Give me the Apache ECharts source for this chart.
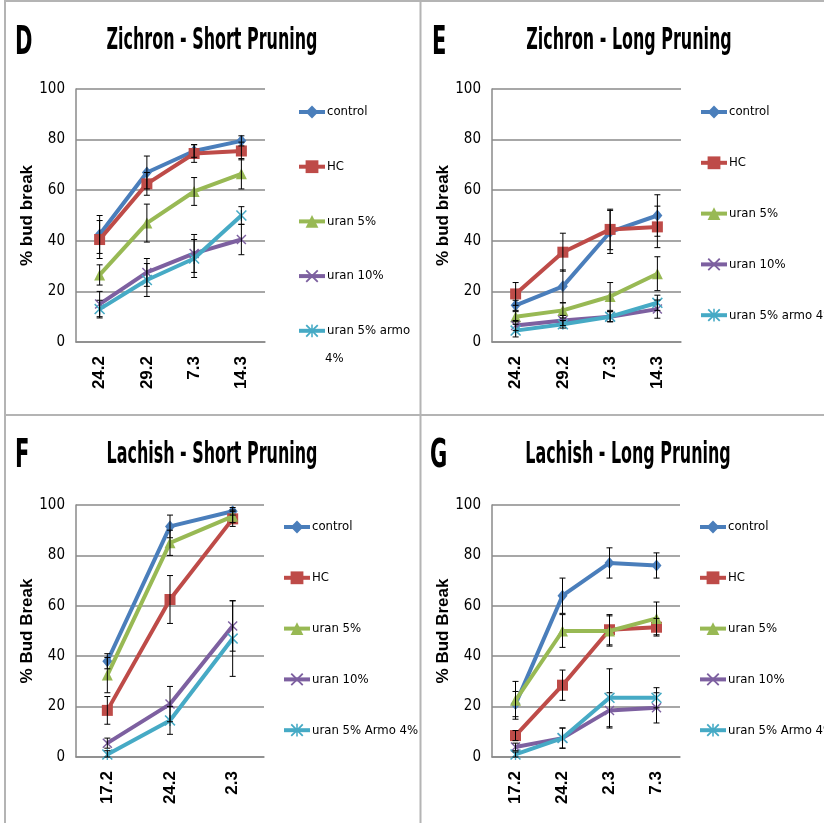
<!DOCTYPE html>
<html><head><meta charset="utf-8">
<script src="https://cdn.jsdelivr.net/npm/echarts@6/dist/echarts.min.js"></script>
<style>html,body{margin:0;padding:0;background:#fff}#c{width:824px;height:823px}</style>
</head><body><div id="c"></div>
<script>
// ---------- categories ----------
const catsZichron = ['24.2', '29.2', '7.3', '14.3'];
const catsLachishShort = ['17.2', '24.2', '2.3'];
const catsLachishLong = ['17.2', '24.2', '2.3', '7.3'];
const namesZ = ['control', 'HC', 'uran 5%', 'uran 10%', 'uran 5% armo 4%'];
const namesL = ['control', 'HC', 'uran 5%', 'uran 10%', 'uran 5% Armo 4%'];

// ---------- D: Zichron - Short Pruning ----------
const D_control = [42.5, 67, 75.5, 79.5];   const D_control_err = [7.5, 6.5, 2.5, 2];
const D_hc = [40.5, 62.5, 74.5, 75.5];      const D_hc_err = [7.5, 4.5, 3.5, 3.5];
const D_uran5 = [26.5, 47, 59.5, 66.5];     const D_uran5_err = [4, 7.5, 5.5, 6];
const D_uran10 = [15, 27.5, 35, 40.5];      const D_uran10_err = [5, 5.5, 7.5, 6];
const D_armo = [13, 24.5, 33, 50];          const D_armo_err = [3.5, 6.5, 7.5, 3.5];

// ---------- E: Zichron - Long Pruning ----------
const E_control = [14.5, 22, 43.5, 50];     const E_control_err = [2, 6.5, 8.5, 8.2];
const E_hc = [19, 35.5, 44.5, 45.5];        const E_hc_err = [4.5, 7.5, 8, 8.2];
const E_uran5 = [10, 12.5, 18, 27];         const E_uran5_err = [2, 3, 5.5, 6.7];
const E_uran10 = [6.5, 8.5, 10, 13];        const E_uran10_err = [2, 2, 2, 3.6];
const E_armo = [4.5, 7, 10, 15.5];          const E_armo_err = [2.5, 1.5, 2, 3];

// ---------- F: Lachish - Short Pruning ----------
const F_control = [38, 91.5, 97.5];         const F_control_err = [3, 4.5, 1.5];
const F_hc = [18.5, 62.5, 94.5];            const F_hc_err = [5.5, 9.5, 3];
const F_uran5 = [32.5, 85, 95.5];           const F_uran5_err = [7, 5, 2.5];
const F_uran10 = [5.5, 21, 52];             const F_uran10_err = [2, 7, 10];
const F_armo = [1, 14.5, 47];               const F_armo_err = [1.5, 5.5, 15];

// ---------- G: Lachish - Long Pruning ----------
const G_control = [21, 64, 77, 76];         const G_control_err = [5, 7, 6, 5];
const G_hc = [8.5, 28.5, 50.5, 51.5];       const G_hc_err = [2, 6, 6, 3.5];
const G_uran5 = [22.5, 50, 50, 55];         const G_uran5_err = [7.5, 6.5, 6, 6.5];
const G_uran10 = [4, 7.5, 18.5, 19.5];      const G_uran10_err = [1.5, 4, 7, 6];
const G_armo = [1, 7.5, 23.5, 23.5];        const G_armo_err = [1, 4, 11.5, 4];

// ---------- styling ----------
const NARROW = '"Liberation Sans Narrow", "DejaVu Sans Condensed", "Arial Narrow", sans-serif';
const ARIAL = '"Liberation Sans", Arial, sans-serif';
const GRID_COLOR = '#8a8a8a';
const colors = ['#4A7EBB', '#BE4B48', '#98B954', '#7D60A0', '#46AAC5'];
const X_PATH = 'path://M0,1L1,0L5,4L9,0L10,1L6,5L10,9L9,10L5,6L1,10L0,9L4,5Z';
const STAR_PATH = 'path://M0,1L1,0L5,4L9,0L10,1L6,5L10,9L9,10L5,6L1,10L0,9L4,5Z M4.4,0L5.6,0L5.6,10L4.4,10Z';
const symbols = ['diamond', 'rect', 'triangle', X_PATH, STAR_PATH];
const symbolSizes = [[10, 12], 11, 11, 10, 11];

const panels = [
  { cats: catsZichron, names: namesZ, yName: '% bud break',
    vals: [D_control, D_hc, D_uran5, D_uran10, D_armo],
    errs: [D_control_err, D_hc_err, D_uran5_err, D_uran10_err, D_armo_err],
    grid: { left: 76, top: 89, width: 189, height: 253 },
    legend: { left: 297, top: 104, itemGap: 38.7 } },
  { cats: catsZichron, names: namesZ, yName: '% bud break',
    vals: [E_control, E_hc, E_uran5, E_uran10, E_armo],
    errs: [E_control_err, E_hc_err, E_uran5_err, E_uran10_err, E_armo_err],
    grid: { left: 492, top: 89, width: 189, height: 253 },
    legend: { left: 699, top: 104, itemGap: 34.8 } },
  { cats: catsLachishShort, names: namesL, yName: '% Bud Break',
    vals: [F_control, F_hc, F_uran5, F_uran10, F_armo],
    errs: [F_control_err, F_hc_err, F_uran5_err, F_uran10_err, F_armo_err],
    grid: { left: 76, top: 505, width: 188, height: 252 },
    legend: { left: 282, top: 519, itemGap: 34.8 } },
  { cats: catsLachishLong, names: namesL, yName: '% Bud Break',
    vals: [G_control, G_hc, G_uran5, G_uran10, G_armo],
    errs: [G_control_err, G_hc_err, G_uran5_err, G_uran10_err, G_armo_err],
    grid: { left: 492, top: 505, width: 188, height: 252 },
    legend: { left: 698, top: 519, itemGap: 34.8 } }
];

const titles = [
  { letter: 'D', lx: 15, ly: 24, text: 'Zichron - Short Pruning', tx: 212, ty: 26 },
  { letter: 'E', lx: 432, ly: 24, text: 'Zichron - Long Pruning', tx: 629, ty: 26 },
  { letter: 'F', lx: 15, ly: 437, text: 'Lachish - Short Pruning', tx: 212, ty: 440 },
  { letter: 'G', lx: 430, ly: 437, text: 'Lachish - Long Pruning', tx: 628, ty: 440 }
];

function errRender(params, api) {
  const i = api.value(0), v = api.value(1), e = api.value(2);
  const top = api.coord([i, v + e]);
  const bot = api.coord([i, Math.max(0, v - e)]);
  const hw = 3;
  const st = { stroke: '#000', lineWidth: 1 };
  return { type: 'group', children: [
    { type: 'line', shape: { x1: top[0], y1: top[1], x2: bot[0], y2: bot[1] }, style: st },
    { type: 'line', shape: { x1: top[0] - hw, y1: top[1], x2: top[0] + hw, y2: top[1] }, style: st },
    { type: 'line', shape: { x1: bot[0] - hw, y1: bot[1], x2: bot[0] + hw, y2: bot[1] }, style: st }
  ]};
}

const grid = [], xAxis = [], yAxis = [], series = [], legend = [];
panels.forEach((p, pi) => {
  grid.push(Object.assign({ containLabel: false }, p.grid));
  xAxis.push({
    type: 'category', gridIndex: pi, data: p.cats, boundaryGap: true,
    axisTick: { show: false },
    axisLine: { show: true, lineStyle: { color: GRID_COLOR, width: 1.5 } },
    axisLabel: { rotate: 90, margin: 14, color: '#000', fontFamily: ARIAL, fontWeight: 'bold', fontSize: 17 }
  });
  yAxis.push({
    type: 'value', gridIndex: pi, min: 0, max: 100, interval: 20,
    axisLine: { show: true, lineStyle: { color: GRID_COLOR, width: 1.5 } },
    axisTick: { show: false },
    splitLine: { show: true, lineStyle: { color: GRID_COLOR, width: 1.5 } },
    axisLabel: { margin: 11, color: '#000', fontFamily: NARROW, fontSize: 15 },
    name: p.yName, nameLocation: 'middle', nameGap: 28,
    nameTextStyle: { color: '#000', fontFamily: ARIAL, fontWeight: 'bold', fontSize: 17 }
  });
  p.names.forEach((nm, k) => {
    series.push({
      type: 'line', name: nm, xAxisIndex: pi, yAxisIndex: pi, data: p.vals[k],
      symbol: symbols[k], symbolSize: symbolSizes[k], showSymbol: true,
      lineStyle: { color: colors[k], width: 4 },
      itemStyle: { color: colors[k] },
      z: 2 + k * 0.01
    });
  });
  p.names.forEach((nm, k) => {
    series.push({
      type: 'custom', name: nm + ' err', xAxisIndex: pi, yAxisIndex: pi,
      data: p.vals[k].map((v, j) => [j, v, p.errs[k][j]]),
      encode: { x: 0, y: 1 }, renderItem: errRender, z: 5, silent: true
    });
  });
  legend.push({
    orient: 'vertical', left: p.legend.left, top: p.legend.top, itemGap: p.legend.itemGap,
    width: 220, height: 300,
    padding: 0, itemWidth: 26, itemHeight: 16, selectedMode: false, data: p.names,
    lineStyle: { width: 4 },
    textStyle: { color: '#000', fontFamily: NARROW, fontSize: 13, lineHeight: 16, padding: [0, 0, 0, -3], overflow: 'none' },
    formatter: pi === 0 ? (n => n === 'uran 5% armo 4%' ? 'uran 5% armo' : n) : (n => n)
  });
});

const graphic = [
  { type: 'line', shape: { x1: 5, y1: 1, x2: 824, y2: 1 }, style: { stroke: '#b4b4b4', lineWidth: 2 } },
  { type: 'line', shape: { x1: 5, y1: 0, x2: 5, y2: 823 }, style: { stroke: '#b4b4b4', lineWidth: 2 } },
  { type: 'line', shape: { x1: 420.5, y1: 0, x2: 420.5, y2: 823 }, style: { stroke: '#b4b4b4', lineWidth: 2 } },
  { type: 'line', shape: { x1: 5, y1: 415, x2: 824, y2: 415 }, style: { stroke: '#b4b4b4', lineWidth: 2 } },
  { type: 'text', x: 325, y: 359, style: { text: '4%', fill: '#000', fontFamily: NARROW, fontSize: 13, textVerticalAlign: 'middle' } }
];
titles.forEach(t => {
  graphic.push({ type: 'text', x: t.lx, y: t.ly, scaleX: 0.78, scaleY: 1.3,
    style: { text: t.letter, fill: '#000', fontFamily: NARROW, fontWeight: 'bold', fontSize: 30, textVerticalAlign: 'top' } });
  graphic.push({ type: 'text', x: t.tx, y: t.ty, scaleX: 0.77, scaleY: 1.3,
    style: { text: t.text, fill: '#000', fontFamily: NARROW, fontWeight: 'bold', fontSize: 23, textAlign: 'center', textVerticalAlign: 'top' } });
});

const chart = echarts.init(document.getElementById('c'), null, { renderer: 'canvas' });
chart.setOption({ animation: false, backgroundColor: '#fff', grid, xAxis, yAxis, series, legend, graphic });
</script></body></html>
